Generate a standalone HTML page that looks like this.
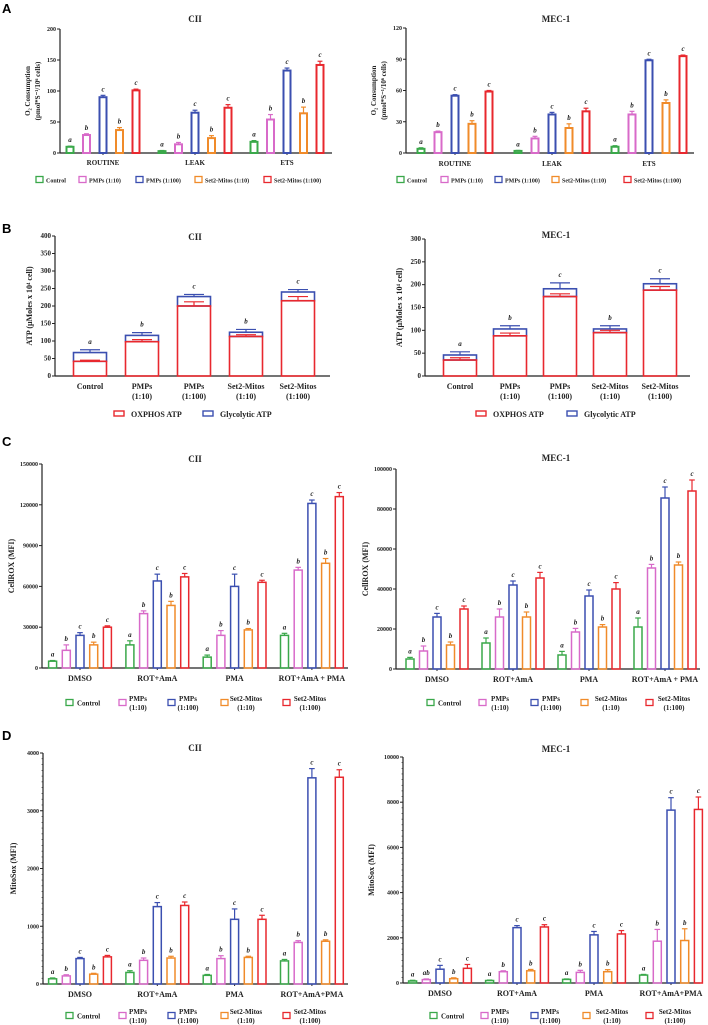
<!DOCTYPE html>
<html><head><meta charset="utf-8"><style>
html,body{margin:0;padding:0;background:#fff;}
svg{display:block;font-family:"Liberation Serif",serif;}
.pl{font-family:"Liberation Sans",sans-serif;font-weight:bold;font-size:13px;}
</style></head><body>
<svg id="fig" width="708" height="1025" viewBox="0 0 708 1025" xmlns="http://www.w3.org/2000/svg">
<text class="pl" x="2" y="13">A</text>
<text class="pl" x="2" y="233">B</text>
<text class="pl" x="2" y="446">C</text>
<text class="pl" x="2" y="740">D</text>
</svg>
<script>
// ---------- data ----------
const seriesNames = ['Control','PMPs (1:10)','PMPs (1:100)','Set2-Mitos (1:10)','Set2-Mitos (1:100)'];
const aCats = ['ROUTINE','LEAK','ETS'];
const aLeftVals = [[10,29,90,37,101],[3,14,65,24,73],[18,54,133,64,142]];
const aLeftErr = [[1,2,3,4,2],[1,3,4,4,5],[2,8,4,10,6]];
const aRightVals = [[4,20,55,28,59],[2,14,37,24,40],[6,37,89,48,93]];
const aRightErr = [[1,1,1,3,1],[0.5,2,2,4,3],[1,3,1,3,1]];
const aLetters = [['a','b','c','b','c'],['a','b','c','b','c'],['a','b','c','b','c']];
const aLeftTicks = [0,50,100,150,200];
const aRightTicks = [0,30,60,90,120];

const bCats = [['Control'],['PMPs','(1:10)'],['PMPs','(1:100)'],['Set2-Mitos','(1:10)'],['Set2-Mitos','(1:100)']];
const bLeftOx = [42,98,200,113,215];
const bLeftOxErr = [3,6,12,5,12];
const bLeftTotal = [67,116,227,125,240];
const bLeftTotalErr = [8,8,6,8,7];
const bRightOx = [35,88,174,95,188];
const bRightOxErr = [5,6,6,5,8];
const bRightTotal = [46,103,191,103,202];
const bRightTotalErr = [7,7,13,7,11];
const bLetters = ['a','b','c','b','c'];
const bLeftTicks = [0,50,100,150,200,250,300,350,400];
const bRightTicks = [0,50,100,150,200,250,300];

const cdCats = ['DMSO','ROT+AmA','PMA','ROT+AmA + PMA'];
const dCats = ['DMSO','ROT+AmA','PMA','ROT+AmA+PMA'];
const cLeftVals = [[5000,13000,24000,17000,30000],[17000,40000,64000,46000,67000],[8000,24000,60000,28000,63000],[24000,72000,121000,77000,126000]];
const cLeftErr = [[500,4000,2000,2000,1000],[3000,2000,5000,3000,2500],[1500,3500,9000,1000,1500],[1500,2000,2500,3500,3000]];
const cRightVals = [[5000,9000,26000,12000,30000],[13000,26000,42000,26000,45500],[7000,18500,36500,21000,40000],[21000,50500,85500,52000,89000]];
const cRightErr = [[800,2500,1800,1500,1500],[2500,4000,2000,2500,2800],[1800,1800,3000,1200,3200],[4500,1800,5500,1500,5500]];
const cdLetters = [['a','b','c','b','c'],['a','b','c','b','c'],['a','b','c','b','c'],['a','b','c','b','c']];
const cLeftTicks = [0,30000,60000,90000,120000,150000];
const cRightTicks = [0,20000,40000,60000,80000,100000];
const dLeftVals = [[90,140,440,170,470],[200,410,1340,450,1360],[150,440,1120,460,1120],[400,720,3570,740,3580]];
const dLeftErr = [[15,20,20,15,25],[30,40,70,30,60],[15,50,180,20,70],[25,30,160,25,130]];
const dRightVals = [[90,150,610,190,650],[110,500,2450,540,2480],[160,470,2130,500,2170],[350,1850,7650,1880,7680]];
const dRightErr = [[30,30,170,40,170],[20,40,90,60,100],[20,90,150,90,150],[30,520,550,520,550]];
const dRightLetters = [['a','ab','c','b','c'],['a','b','c','b','c'],['a','b','c','b','c'],['a','b','c','b','c']];
const dLeftTicks = [0,1000,2000,3000,4000];
const dRightTicks = [0,2000,4000,6000,8000,10000];
const COLORS = ['#3aa84a','#d86ac9','#3b4fb0','#f08b2a','#e8282e'];
const OXC = '#e8282e', GLC = '#3b4fb0';

// ---------- helpers ----------
const NS='http://www.w3.org/2000/svg';
const fig=document.getElementById('fig');
function mk(tag,attrs,parent){const e=document.createElementNS(NS,tag);for(const k in attrs)e.setAttribute(k,attrs[k]);(parent||fig).appendChild(e);return e;}
function txt(x,y,s,size,anchor,extra,parent){const t=mk('text',Object.assign({x:x,y:y,'font-size':size,'font-weight':'bold','text-anchor':anchor||'middle',fill:'#222'},extra||{}),parent);t.textContent=s;return t;}

function axes(p){
  const g=mk('g',{});
  
  
  const ys=v=>p.y0-(v/p.ymax)*(p.y0-p.ytop);
  mk('line',{x1:p.ax,y1:p.y0,x2:p.ax,y2:p.ytop,stroke:'#222','stroke-width':1.2},g);
  mk('line',{x1:p.ax,y1:p.y0,x2:p.xend,y2:p.y0,stroke:'#222','stroke-width':1.2},g);
  if(p.minor){for(let v=0;v<=p.ymax;v+=p.minor){mk('line',{x1:p.ax-1.5,y1:ys(v),x2:p.ax,y2:ys(v),stroke:'#222','stroke-width':0.6},g);}}
  p.ticks.forEach(v=>{
    mk('line',{x1:p.ax-3,y1:ys(v),x2:p.ax,y2:ys(v),stroke:'#222','stroke-width':1},g);
    const t=txt(p.ax-4,ys(v)+2,String(v),p.tickSize||6,'end',{},g);
    
    
  });
  const yl=mk('text',{transform:'translate('+p.ylx+','+((p.y0+p.ytop)/2)+') rotate(-90)','font-size':p.ylSize||8,'font-weight':'bold','text-anchor':'middle',fill:'#222'});
  
  
  p.ylabel.forEach((line,i)=>{const ts=mk('tspan',{x:0,dy:i?10:0},yl);ts.textContent=line;});
  const tt=txt(p.tx,p.ty,p.title,9);
  
  
  return ys;
}

function grouped(p,vals,errs,letters,cats){
  const ys=axes(p);
  cats.forEach((c,gi)=>{
    const cx=p.c0+gi*p.gs;
    mk('line',{x1:cx,y1:p.y0,x2:cx,y2:p.y0+2,stroke:'#222','stroke-width':1});
    const cl=txt(cx,p.y0+p.catDy,c,p.catSize||8);
    
    
    vals[gi].forEach((v,si)=>{
      const x=cx+(si-2)*p.bs-p.bw/2;
      const r=mk('rect',{x:x,y:ys(v),width:p.bw,height:p.y0-ys(v),fill:'none',stroke:COLORS[si],'stroke-width':p.sw||1.5});
      
      
      const ey=ys(v+errs[gi][si]);
      mk('line',{x1:x+p.bw/2,y1:ys(v),x2:x+p.bw/2,y2:ey,stroke:COLORS[si],'stroke-width':1.2});
      mk('line',{x1:x+p.bw*0.15,y1:ey,x2:x+p.bw*0.85,y2:ey,stroke:COLORS[si],'stroke-width':1.2});
      const lt=txt(x+p.bw/2,ey-4,letters[gi][si],7,'middle',{'font-style':'italic'});
      
      
    });
  });
}

function legend(items,y){
  items.forEach((it,i)=>{
    const b=mk('rect',{x:it.bx,y:y-3.5,width:7,height:6,fill:'none',stroke:COLORS[i],'stroke-width':1.3});
    
    
    if(it.lines.length===1){
      const t=txt(it.tx,y+2.5,it.lines[0],it.size||7,it.anchor||'start');
      
      
    } else {
      const t1=txt(it.tx,y-2,it.lines[0],7,'middle');
      
      
      const t2=txt(it.tx,y+7,it.lines[1],7,'middle');
      
      
    }
  });
}

function stacked(p,ox,oxE,tot,totE){
  const ys=axes(p);
  ox.forEach((v,i)=>{
    const cx=p.c0+i*p.gs, x=cx-p.bw/2;
    const g=mk('rect',{x:x,y:ys(tot[i]),width:p.bw,height:ys(v)-ys(tot[i]),fill:'none',stroke:GLC,'stroke-width':1.6});
    
    
    const r=mk('rect',{x:x,y:ys(v),width:p.bw,height:p.y0-ys(v),fill:'none',stroke:OXC,'stroke-width':1.6});
    
    
    const e1=ys(v+oxE[i]);
    mk('line',{x1:cx,y1:ys(v),x2:cx,y2:e1,stroke:OXC,'stroke-width':1.2});
    mk('line',{x1:cx-10,y1:e1,x2:cx+10,y2:e1,stroke:OXC,'stroke-width':1.2});
    const e2=ys(tot[i]+totE[i]);
    mk('line',{x1:cx,y1:ys(tot[i]),x2:cx,y2:e2,stroke:GLC,'stroke-width':1.2});
    mk('line',{x1:cx-10,y1:e2,x2:cx+10,y2:e2,stroke:GLC,'stroke-width':1.2});
    const lt=txt(cx,e2-6,bLetters[i],7,'middle',{'font-style':'italic'});
    
    
    bCats[i].forEach((s,k)=>{const t=txt(cx,p.y0+13+k*10,s,8);
      
      });
  });
}
function stackLegend(bx1,tx1,bx2,tx2,y){
  const r1=mk('rect',{x:bx1,y:y-3,width:10,height:5,fill:'none',stroke:OXC,'stroke-width':1.4});
  
  
  const t1=txt(tx1,y+3,'OXPHOS ATP',8,'start');
  
  
  const r2=mk('rect',{x:bx2,y:y-3,width:10,height:5,fill:'none',stroke:GLC,'stroke-width':1.4});
  
  
  const t2=txt(tx2,y+3,'Glycolytic ATP',8,'start');
  
  
}

// ---------- Panel A ----------
const o2Label=['O\u2082 Consumption','(pmol*S\u207B\u00B9/10\u2076 cells)'];
grouped({name:'a-left',ax:60,y0:153,ytop:29,ymax:200,xend:332,ticks:aLeftTicks,ylx:30,ylabel:o2Label,ylSize:7,tx:195,ty:22,title:'CII',c0:103,gs:92,bs:16.5,bw:7,sw:2,catDy:12,catSize:7},aLeftVals,aLeftErr,aLetters,aCats);
grouped({name:'a-right',ax:406,y0:153,ytop:28,ymax:120,xend:694,ticks:aRightTicks,ylx:376,ylabel:o2Label,ylSize:7,tx:556,ty:22,title:'MEC-1',c0:455,gs:97,bs:17,bw:7,sw:2,catDy:13,catSize:7},aRightVals,aRightErr,aLetters,aCats);
legend([{bx:36,tx:46,lines:['Control'],size:6},{bx:79,tx:89,lines:['PMPs (1:10)'],size:6},{bx:136,tx:146,lines:['PMPs (1:100)'],size:6},{bx:195,tx:205,lines:['Set2-Mitos (1:10)'],size:6},{bx:264,tx:274,lines:['Set2-Mitos (1:100)'],size:6}],180);
legend([{bx:397,tx:407,lines:['Control'],size:6},{bx:441,tx:451,lines:['PMPs (1:10)'],size:6},{bx:495,tx:505,lines:['PMPs (1:100)'],size:6},{bx:552,tx:562,lines:['Set2-Mitos (1:10)'],size:6},{bx:624,tx:634,lines:['Set2-Mitos (1:100)'],size:6}],180);

// ---------- Panel B ----------
const atpLabel=['ATP (\u00B5Moles x 10\u2074 cell)'];
stacked({name:'b-left',ax:55,y0:376,ytop:236,ymax:400,xend:330,ticks:bLeftTicks,ylx:32,ylabel:atpLabel,tickSize:7,tx:195,ty:240,title:'CII',c0:90,gs:52,bw:33},bLeftOx,bLeftOxErr,bLeftTotal,bLeftTotalErr);
stacked({name:'b-right',ax:425,y0:376,ytop:239,ymax:300,xend:690,ticks:bRightTicks,ylx:402,ylabel:atpLabel,tickSize:7,tx:556,ty:238,title:'MEC-1',c0:460,gs:50,bw:33},bRightOx,bRightOxErr,bRightTotal,bRightTotalErr);
stackLegend(114,131,203,220,414);
stackLegend(476,493,567,584,414);

// ---------- Panel C ----------
grouped({name:'c-left',ax:42,y0:668,ytop:464,ymax:150000,xend:348,ticks:cLeftTicks,ylx:14,ylabel:['CellROX (MFI)'],tx:195,ty:462,title:'CII',c0:80,gs:77.3,bs:13.7,bw:8,catDy:13},cLeftVals,cLeftErr,cdLetters,cdCats);
grouped({name:'c-right',ax:396,y0:669,ytop:469,ymax:100000,xend:700,ticks:cRightTicks,ylx:368,ylabel:['CellROX (MFI)'],tx:556,ty:461,title:'MEC-1',c0:437,gs:76,bs:13.5,bw:8,catDy:13},cRightVals,cRightErr,cdLetters,cdCats);
legend([{bx:66,tx:77,lines:['Control'],size:7},{bx:119,tx:138,lines:['PMPs','(1:10)']},{bx:168,tx:188,lines:['PMPs','(1:100)']},{bx:221,tx:246,lines:['Set2-Mitos','(1:10)']},{bx:283,tx:310,lines:['Set2-Mitos','(1:100)']}],703);
legend([{bx:427,tx:438,lines:['Control'],size:7},{bx:479,tx:500,lines:['PMPs','(1:10)']},{bx:531,tx:551,lines:['PMPs','(1:100)']},{bx:581,tx:611,lines:['Set2-Mitos','(1:10)']},{bx:646,tx:674,lines:['Set2-Mitos','(1:100)']}],703);

// ---------- Panel D ----------
grouped({name:'d-left',ax:43,y0:984,ytop:753,ymax:4000,xend:348,ticks:dLeftTicks,minor:100,ylx:16,ylabel:['MitoSox (MFI)'],tx:195,ty:751,title:'CII',c0:80,gs:77.3,bs:13.7,bw:8,catDy:13},dLeftVals,dLeftErr,cdLetters,dCats);
grouped({name:'d-right',ax:403,y0:983,ytop:757,ymax:10000,xend:700,ticks:dRightTicks,minor:250,ylx:374,ylabel:['MitoSox (MFI)'],tx:556,ty:752,title:'MEC-1',c0:440,gs:77,bs:13.7,bw:8,catDy:13},dRightVals,dRightErr,dRightLetters,dCats);
legend([{bx:66,tx:77,lines:['Control'],size:7},{bx:119,tx:138,lines:['PMPs','(1:10)']},{bx:168,tx:188,lines:['PMPs','(1:100)']},{bx:221,tx:246,lines:['Set2-Mitos','(1:10)']},{bx:283,tx:310,lines:['Set2-Mitos','(1:100)']}],1016);
legend([{bx:430,tx:441,lines:['Control'],size:7},{bx:481,tx:500,lines:['PMPs','(1:10)']},{bx:531,tx:550,lines:['PMPs','(1:100)']},{bx:583,tx:612,lines:['Set2-Mitos','(1:10)']},{bx:646,tx:675,lines:['Set2-Mitos','(1:100)']}],1016);
</script>
</body></html>
